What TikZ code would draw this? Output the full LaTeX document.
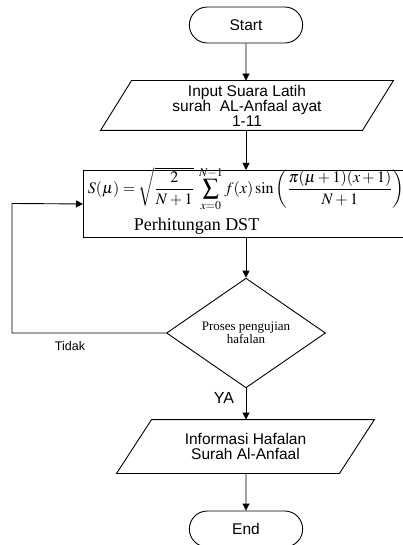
\documentclass[tikz,border=0pt]{standalone}
\usepackage{mathptmx}
\usepackage{fontspec}
\setmainfont{Liberation Serif}
\newfontfamily\arial{Liberation Sans}
\usetikzlibrary{shapes.geometric,shapes.misc,arrows.meta}

\begin{document}
\begin{tikzpicture}[x=1pt,y=-1pt,line width=0.9pt,
    arr/.style={-{Triangle[length=7pt,width=7pt]}},
    terminal/.style={draw,rounded rectangle,minimum width=120pt,minimum height=36pt,
        font=\arial\fontsize{15.5}{15}\selectfont},
    io/.style={inner sep=0pt,align=center,font=\arial\fontsize{15.5}{15}\selectfont}]
        \useasboundingbox (0,0) rectangle (403,545);
        \clip (0,0) rectangle (403,545);
        \node[terminal] (start) at (246,25) {Start};
        \node[io,minimum width=292pt,minimum height=49pt] (input) at (247,105.5)
            {Input Suara Latih\\surah\ \ AL-Anfaal ayat\\1-11};
        \draw ([xshift=31pt]input.north west) -- (input.north east)
            -- ([xshift=-31pt]input.south east) -- (input.south west) -- cycle;
        \node[draw,minimum width=340pt,minimum height=67pt,anchor=north west] (dst) at (83,170) {};
        \node (rumus) at (246,189) {\fontsize{16}{18}\selectfont
            $\displaystyle S(\mu)=\sqrt{\frac{2}{N+1}}\;\sum_{x=0}^{N-1}f(x)\sin\left(\frac{\pi(\mu+1)(x+1)}{N+1}\right)$};
        \node[anchor=base,font=\fontsize{18}{18}\selectfont] (dstlabel) at (196.5,230) {Perhitungan DST};
        \node[draw,diamond,minimum width=159pt,minimum height=95pt,inner sep=0pt,align=center,
            font=\fontsize{13}{12.5}\selectfont] (cek) at (246,333) {Proses pengujian\\hafalan};
        \node[io,minimum width=257pt,minimum height=53pt] (info) at (245.5,446.5)
            {Informasi Hafalan\\Surah Al-Anfaal};
        \draw ([xshift=35pt]info.north west) -- (info.north east)
            -- ([xshift=-35pt]info.south east) -- (info.south west) -- cycle;
        \node[terminal] (end) at (246,529) {End};
        \node[font=\arial\fontsize{12.5}{12.5}\selectfont] (tidak) at (70,346) {Tidak};
        \node[font=\arial\fontsize{16}{16}\selectfont] (ya) at (224,398) {YA};
        \coordinate (balik) at (12,203.5);
        \draw[arr] (start) -- (start |- input.north);
        \draw[arr] (start |- input.south) -- (start |- dst.north);
        \draw[arr] (cek |- dst.south) -- (cek);
        \draw[arr] (cek) -- (cek |- info.north);
        \draw[arr] (cek |- info.south) -- (end);
        \draw[arr] (cek.west) -| (balik) -- (dst.west);
\end{tikzpicture}
\end{document}
